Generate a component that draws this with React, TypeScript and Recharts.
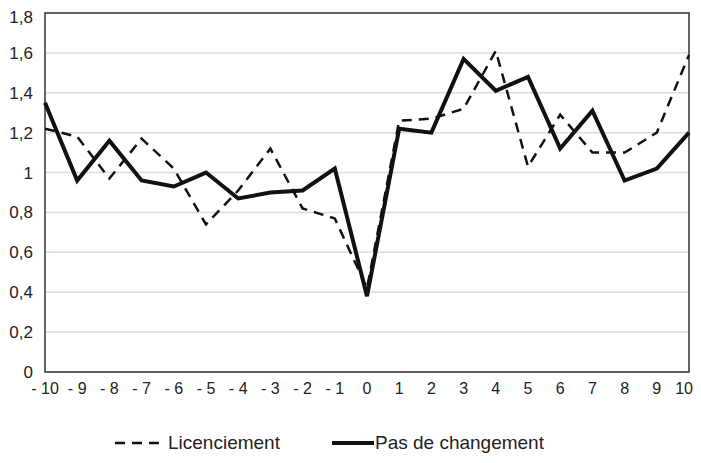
import { LineChart, Line, XAxis, YAxis, CartesianGrid, ReferenceArea } from "recharts";

const years = [-10, -9, -8, -7, -6, -5, -4, -3, -2, -1, 0, 1, 2, 3, 4, 5, 6, 7, 8, 9, 10];
const licenciement = [1.22, 1.18, 0.97, 1.17, 1.02, 0.74, 0.91, 1.12, 0.82, 0.77, 0.42, 1.26, 1.27, 1.32, 1.61, 1.03, 1.29, 1.1, 1.1, 1.2, 1.59];
const pasDeChangement = [1.35, 0.96, 1.16, 0.96, 0.93, 1.0, 0.87, 0.9, 0.91, 1.02, 0.38, 1.22, 1.2, 1.57, 1.41, 1.48, 1.12, 1.31, 0.96, 1.02, 1.2];
const yTicks = [0, 0.2, 0.4, 0.6, 0.8, 1, 1.2, 1.4, 1.6, 1.8];

const data = years.map((t, i) => ({
  t,
  licenciement: licenciement[i],
  pas: pasDeChangement[i],
}));

const FONT = "'Liberation Sans', Arial, sans-serif";

function XTick({ x, y, payload }: any) {
  const v = payload.value as number;
  const label = v < 0 ? `- ${Math.abs(v)}` : `${v}`;
  // last label sits on the right edge; pull it in so it isn't cut off
  const last = v === years[years.length - 1];
  return (
    <text
      x={last ? x + 4 : x}
      y={y}
      dy={13}
      textAnchor={last ? "end" : "middle"}
      fontSize={16}
      fontFamily={FONT}
      fill="#222"
    >
      {label}
    </text>
  );
}

function YTick({ x, y, payload }: any) {
  const label = String(payload.value).replace(".", ",");
  return (
    <text x={x} y={y} dy={6} textAnchor="end" fontSize={17} fontFamily={FONT} fill="#222">
      {label}
    </text>
  );
}

function ChartLegend() {
  return (
    <div
      style={{
        position: "absolute",
        top: 424,
        left: 0,
        display: "flex",
        alignItems: "center",
        fontFamily: FONT,
        fontSize: 19,
        color: "#222",
        paddingLeft: 107,
        whiteSpace: "nowrap",
      }}
    >
      <svg width={50} height={10}>
        <line x1={0} y1={5} x2={50} y2={5} stroke="#111" strokeWidth={2.5} strokeDasharray="10 7" />
      </svg>
      <span style={{ marginLeft: 3 }}>Licenciement</span>
      <svg width={42} height={10} style={{ marginLeft: 52 }}>
        <line x1={0} y1={5} x2={42} y2={5} stroke="#111" strokeWidth={4} />
      </svg>
      <span style={{ marginLeft: 1 }}>Pas de changement</span>
    </div>
  );
}

export default function App() {
  return (
    <div style={{ position: "relative", width: 693, height: 447 }}>
      <style>{`html, body { overflow: hidden; } .recharts-wrapper, .recharts-surface, svg { overflow: visible !important; }`}</style>
      <LineChart
        width={693}
        height={447}
        data={data}
        margin={{ top: 5, right: 12, left: 0, bottom: 0 }}
      >
        <CartesianGrid vertical={false} stroke="#dcdcdc" strokeWidth={1.5} />
        <XAxis
          dataKey="t"
          type="number"
          domain={[-10, 10]}
          ticks={years}
          interval={0}
          tickLine={false}
          axisLine={false}
          tick={<XTick />}
          tickMargin={3}
          height={83}
        />
        <YAxis
          type="number"
          domain={[0, 1.8]}
          ticks={yTicks}
          tickLine={false}
          axisLine={false}
          width={37}
          tickMargin={6}
          tick={<YTick />}
        />
        <ReferenceArea x1={-10} x2={10} y1={0} y2={1.8} fill="none" stroke="#333" strokeWidth={1.5} ifOverflow="visible" />
        <Line
          type="linear"
          dataKey="licenciement"
          stroke="#111"
          strokeWidth={2.5}
          strokeDasharray="10 7"
          dot={false}
          isAnimationActive={false}
        />
        <Line type="linear" dataKey="pas" stroke="#111" strokeWidth={4} dot={false} isAnimationActive={false} />
      </LineChart>
      <ChartLegend />
    </div>
  );
}
